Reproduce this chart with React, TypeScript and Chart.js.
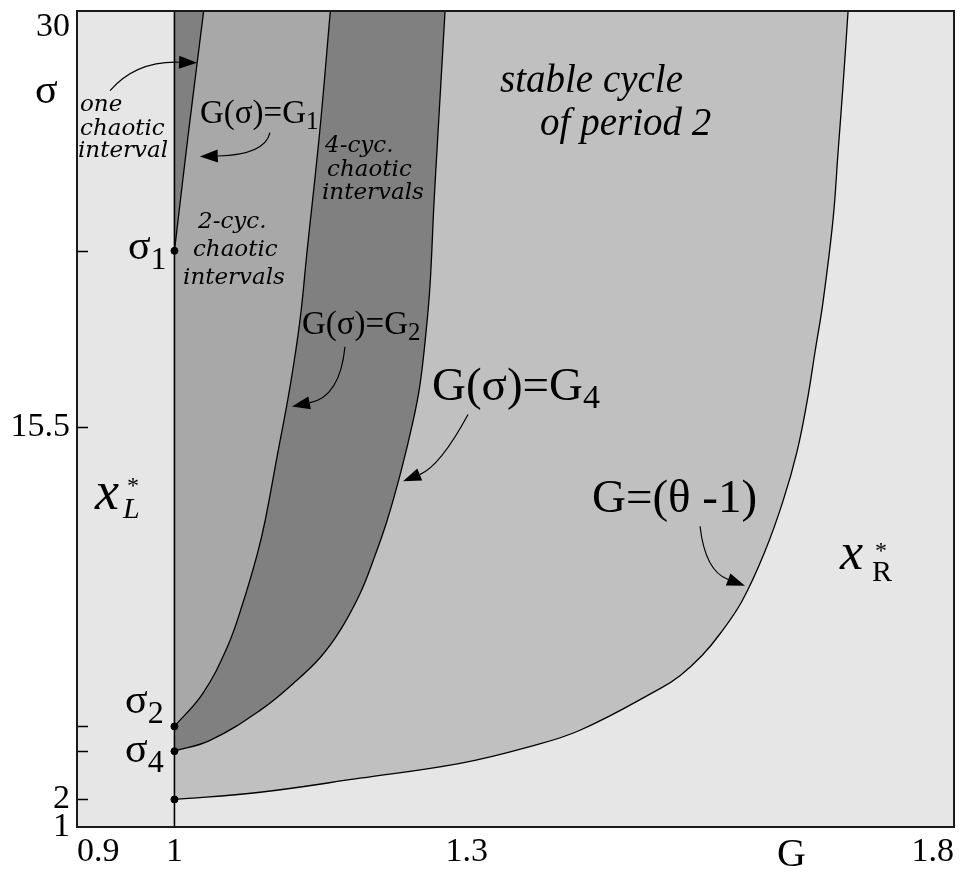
import { useEffect, useRef } from 'react';
import { Chart, registerables } from 'chart.js';

Chart.register(...registerables);

// ---- axes ----
const xTickValues = [0.9, 1, 1.3, 1.8];
const yTickValues = [1, 2, 15.5, 30];
const xRange = [0.9, 1.8];
const yRange = [1, 30.6];

// ---- special sigma values on G = 1 ----
const sigmaOne = 21.9;
const sigmaTwo = 4.65;
const sigmaFour = 3.75;
const sigmaBase = 2;
const markerSigmas = [sigmaBase, sigmaFour, sigmaTwo, sigmaOne];
const innerTickSigmas = [sigmaBase, sigmaFour, sigmaTwo, 15.5, sigmaOne];

// ---- boundary curves G(sigma) ----
const g1G = [1.0, 1.014, 1.03];
const g1S = [21.9, 26.08, 30.6];

const g2G = [1.0, 1.029, 1.054, 1.07, 1.085, 1.093, 1.105, 1.119, 1.129, 1.136, 1.149, 1.16];
const g2S = [4.65, 5.84, 7.51, 9.1, 10.9, 12.1, 14.37, 17.05, 19.43, 21.85, 26.19, 30.6];

const g4G = [1.0, 1.0365, 1.0878, 1.1217, 1.1494, 1.1699, 1.1904, 1.2038, 1.2181, 1.2325, 1.2448, 1.252, 1.2582, 1.2623, 1.2664, 1.2705, 1.2777];
const g4S = [3.75, 4.14, 5.23, 6.2, 7.14, 8.12, 9.46, 10.65, 12.1, 13.9, 15.71, 17.05, 18.96, 20.66, 23.66, 26.19, 30.6];

const gThG = [1.0, 1.0878, 1.1904, 1.2931, 1.3618, 1.4162, 1.4983, 1.5188, 1.5414, 1.5599, 1.5825, 1.6061, 1.6245, 1.6389, 1.6492, 1.6574, 1.6656, 1.6759, 1.681, 1.6861, 1.6913];
const gThS = [2.0, 2.26, 2.77, 3.31, 3.89, 4.51, 6.02, 6.49, 7.22, 8.01, 9.2, 11.01, 12.82, 14.62, 16.43, 18.24, 20.05, 23.05, 25.47, 27.89, 30.6];

const SERIF = '"Liberation Serif", "Times New Roman", serif';
const SLAB = '"DejaVu Serif", serif';

type Run = { t: string; size: number; italic?: boolean; family?: string; dx?: number; dy?: number };
type Label = { g: number; s: number; runs: Run[] };

// annotation texts placed in data units (G, sigma)
const labels: Label[] = [
  { g: 0.8569, s: 27.27, runs: [{ t: 'σ', size: 42 }] },
  { g: 0.9031, s: 26.98, runs: [{ t: 'one', size: 23, italic: true, family: SLAB }] },
  { g: 0.9031, s: 26.12, runs: [{ t: 'chaotic', size: 23, italic: true, family: SLAB }] },
  { g: 0.901, s: 25.29, runs: [{ t: 'interval', size: 23, italic: true, family: SLAB }] },
  { g: 1.0242, s: 22.72, runs: [{ t: '2-cyc.', size: 23, italic: true, family: SLAB }] },
  { g: 1.019, s: 21.71, runs: [{ t: 'chaotic', size: 23, italic: true, family: SLAB }] },
  { g: 1.0088, s: 20.7, runs: [{ t: 'intervals', size: 23, italic: true, family: SLAB }] },
  { g: 1.1545, s: 25.47, runs: [{ t: '4-cyc.', size: 23, italic: true, family: SLAB }] },
  { g: 1.1566, s: 24.6, runs: [{ t: 'chaotic', size: 23, italic: true, family: SLAB }] },
  { g: 1.1514, s: 23.77, runs: [{ t: 'intervals', size: 23, italic: true, family: SLAB }] },
  { g: 1.3341, s: 27.67, runs: [{ t: 'stable cycle', size: 39, italic: true }] },
  { g: 1.3752, s: 26.12, runs: [{ t: 'of period 2', size: 39, italic: true }] },
  { g: 1.0262, s: 26.52, runs: [{ t: 'G(σ)=G', size: 33 }, { t: '1', size: 25, dy: 6 }] },
  { g: 1.1309, s: 18.89, runs: [{ t: 'G(σ)=G', size: 33 }, { t: '2', size: 25, dy: 6 }] },
  { g: 1.2643, s: 16.5, runs: [{ t: 'G(σ)=G', size: 47 }, { t: '4', size: 34, dy: 8 }] },
  { g: 1.4285, s: 12.42, runs: [{ t: 'G=(θ -1)', size: 47 }] },
  {
    g: 0.9185, s: 12.53,
    runs: [
      { t: 'x', size: 54, italic: true },
      { t: '*', size: 24, dx: 32, dy: -16 },
      { t: 'L', size: 30, italic: true, dx: 28, dy: 9 },
    ],
  },
  {
    g: 1.683, s: 10.36,
    runs: [
      { t: 'x', size: 52, italic: true },
      { t: '*', size: 24, dx: 35, dy: -11 },
      { t: 'R', size: 30, dx: 32, dy: 12 },
    ],
  },
  { g: 0.9523, s: 21.6, runs: [{ t: 'σ', size: 42 }, { t: '1', size: 32, dy: 10 }] },
  { g: 0.9493, s: 5.12, runs: [{ t: 'σ', size: 42 }, { t: '2', size: 32, dy: 10 }] },
  { g: 0.9493, s: 3.35, runs: [{ t: 'σ', size: 42 }, { t: '4', size: 32, dy: 10 }] },
];

type Arrow = { from: [number, number]; ctrl: [number, number]; to: [number, number] };
const arrows: Arrow[] = [
  { from: [0.9339, 27.71], ctrl: [0.9606, 28.79], to: [1.0232, 28.72] },
  { from: [1.098, 26.19], ctrl: [1.093, 25.39], to: [1.026, 25.32] },
  { from: [1.175, 18.42], ctrl: [1.17, 16.61], to: [1.1206, 16.25] },
  { from: [1.3013, 15.96], ctrl: [1.2725, 14.08], to: [1.2346, 13.54] },
  { from: [1.5394, 11.91], ctrl: [1.5445, 10.29], to: [1.5855, 9.75] },
];

const xTitle = { text: 'G', g: 1.6184 };

const toPoints = (gs: number[], ss: number[]) => gs.map((g, i) => ({ x: g, y: ss[i] }));

const decorPlugin = {
  id: 'decor',
  beforeDatasetsDraw(chart: any) {
    const { ctx, chartArea: a } = chart;
    ctx.save();
    ctx.fillStyle = '#e6e6e6';
    ctx.fillRect(a.left, a.top, a.right - a.left, a.bottom - a.top);
    ctx.restore();
  },
  afterDatasetsDraw(chart: any) {
    const { ctx, chartArea: a, scales } = chart;
    const xs = scales.x;
    const ys = scales.y;
    const px = (g: number, s: number): [number, number] => [xs.getPixelForValue(g), ys.getPixelForValue(s)];
    ctx.save();
    // inward tick marks
    ctx.strokeStyle = '#000';
    ctx.lineWidth = 1.5;
    for (const v of innerTickSigmas) {
      const py = Math.round(ys.getPixelForValue(v)) + 0.5;
      ctx.beginPath();
      ctx.moveTo(a.left, py);
      ctx.lineTo(a.left + 11, py);
      ctx.stroke();
    }
    // frame
    ctx.strokeStyle = '#1a1a1a';
    ctx.lineWidth = 2;
    ctx.strokeRect(a.left, a.top, a.right - a.left, a.bottom - a.top);
    // arrows
    ctx.strokeStyle = '#000';
    ctx.fillStyle = '#000';
    ctx.lineWidth = 1.2;
    for (const ar of arrows) {
      const [x0, y0] = px(ar.from[0], ar.from[1]);
      const [cx, cy] = px(ar.ctrl[0], ar.ctrl[1]);
      const [x1, y1] = px(ar.to[0], ar.to[1]);
      const ang = Math.atan2(y1 - cy, x1 - cx);
      const L = 18;
      const W = 6.5;
      const bx = x1 - L * Math.cos(ang);
      const by = y1 - L * Math.sin(ang);
      ctx.beginPath();
      ctx.moveTo(x0, y0);
      ctx.quadraticCurveTo(cx, cy, bx, by);
      ctx.stroke();
      ctx.beginPath();
      ctx.moveTo(x1, y1);
      ctx.lineTo(bx + W * Math.sin(ang), by - W * Math.cos(ang));
      ctx.lineTo(bx - W * Math.sin(ang), by + W * Math.cos(ang));
      ctx.closePath();
      ctx.fill();
    }
    // labels
    ctx.textBaseline = 'alphabetic';
    ctx.textAlign = 'left';
    ctx.fillStyle = '#000';
    for (const lb of labels) {
      const [x0, y0] = px(lb.g, lb.s);
      let cur = x0;
      for (const r of lb.runs) {
        ctx.font = `${r.italic ? 'italic ' : ''}${r.size}px ${r.family || SERIF}`;
        const x = r.dx !== undefined ? x0 + r.dx : cur;
        ctx.fillText(r.t, x, y0 + (r.dy || 0));
        cur = x + ctx.measureText(r.t).width;
      }
    }
    // x axis title
    ctx.font = `40px ${SERIF}`;
    ctx.fillText(xTitle.text, xs.getPixelForValue(xTitle.g), a.bottom + 39);
    ctx.restore();
  },
};

export default function App() {
  const ref = useRef<HTMLCanvasElement>(null);
  useEffect(() => {
    if (!ref.current) return;
    const curve = (gs: number[], ss: number[], color: string) => ({
      data: toPoints(gs, ss),
      borderColor: '#000',
      borderWidth: 1.3,
      backgroundColor: color,
      fill: { value: 1 },
      pointRadius: 0,
      tension: 0.4,
    });
    const chart = new Chart(ref.current, {
      type: 'line',
      data: {
        datasets: [
          {
            data: [{ x: 1, y: yRange[0] }, { x: 1, y: yRange[1] }],
            borderColor: '#000',
            borderWidth: 1.6,
            pointRadius: 0,
            fill: false,
          },
          {
            data: markerSigmas.map((s) => ({ x: 1, y: s })),
            showLine: false,
            pointRadius: 3.5,
            pointBackgroundColor: '#000',
            pointBorderColor: '#000',
            fill: false,
          },
          curve(g1G, g1S, '#808080'),
          curve(g2G, g2S, '#a8a8a8'),
          curve(g4G, g4S, '#808080'),
          curve(gThG, gThS, '#c0c0c0'),
        ] as any,
      },
      options: {
        animation: false,
        responsive: true,
        maintainAspectRatio: false,
        indexAxis: 'y',
        events: [],
        layout: { padding: { top: 2, right: 5, left: 0, bottom: 0 } },
        plugins: { legend: { display: false }, tooltip: { enabled: false } },
        scales: {
          x: {
            type: 'linear',
            position: 'bottom',
            min: xRange[0],
            max: xRange[1],
            afterBuildTicks: (s: any) => {
              s.ticks = xTickValues.map((v) => ({ value: v }));
            },
            afterFit: (s: any) => {
              s.height = 47;
              s.paddingLeft = 0;
              s.paddingRight = 0;
            },
            ticks: {
              align: 'inner',
              padding: 5,
              color: '#000',
              font: { family: 'Liberation Serif', size: 34 },
              callback: (v: any) => String(v),
              maxRotation: 0,
              autoSkip: false,
            },
            grid: { display: false, drawTicks: false },
            border: { display: false },
          },
          y: {
            type: 'linear',
            position: 'left',
            min: yRange[0],
            max: yRange[1],
            afterBuildTicks: (s: any) => {
              s.ticks = yTickValues.map((v) => ({ value: v }));
            },
            afterFit: (s: any) => {
              s.width = 69;
              s.paddingTop = 0;
              s.paddingBottom = 0;
            },
            ticks: {
              padding: 7,
              color: '#000',
              font: { family: 'Liberation Serif', size: 34 },
              callback: (v: any) => String(v),
              autoSkip: false,
            },
            grid: { display: false, drawTicks: false },
            border: { display: false },
          },
        },
      } as any,
      plugins: [decorPlugin],
    });
    return () => chart.destroy();
  }, []);
  return (
    <div style={{ width: 951, height: 868, marginTop: -2, position: 'relative' }}>
      <canvas ref={ref} />
    </div>
  );
}
